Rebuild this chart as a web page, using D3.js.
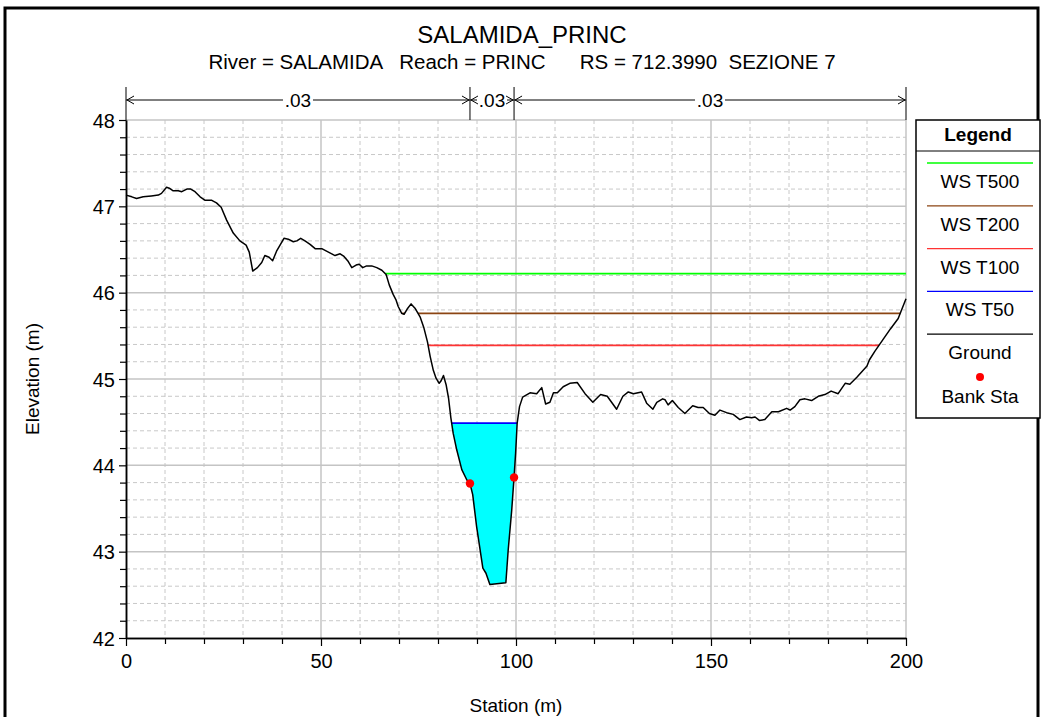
<!DOCTYPE html>
<html><head><meta charset="utf-8">
<script src="https://cdn.jsdelivr.net/npm/d3@7/dist/d3.min.js"></script>
<style>
html,body{margin:0;padding:0;background:#fff;}
svg{display:block;font-family:"Liberation Sans",Arial,sans-serif;}
</style></head>
<body>
<svg id="chart" width="1042" height="717"></svg>
<script>
// ---------- data ----------
const groundStation = [0,1.5,2.7,4.4,6.5,8.3,9.1,10.4,11.1,12.1,13.4,14.3,15.6,16.6,17.7,19.0,20.3,22.0,23.2,24.4,25.8,27.5,29.2,30.8,31.6,32.5,33.7,34.8,35.6,36.7,37.6,38.6,39.5,40.5,41.6,42.9,43.8,44.8,45.9,47.2,48.5,50.2,51.9,53.6,54.9,55.9,57.0,57.9,59.0,59.8,60.7,61.7,63.0,64.3,65.6,66.7,67.5,68.5,69.2,69.8,70.7,71.3,72.1,73.1,74.1,75.4,76.4,77.3,78.0,78.8,79.5,80.3,80.8,81.4,82.1,82.7,83.3,83.9,84.8,86.1,87.4,88.2,88.9,89.9,91.5,92.3,93.3,97.4,98.0,98.9,99.5,99.9,100.3,100.9,101.7,103.6,105.3,106.6,107.6,108.7,109.6,110.6,112.1,113.8,115.7,117.7,119.7,121.7,123.4,125.8,127.4,128.8,130.1,132.2,133.5,135.1,136.1,137.6,138.2,139.0,140.1,141.6,143.3,145.3,146.7,148.0,149.6,151.0,152.3,154.0,155.7,157.4,159.1,160.4,161.3,162.4,163.8,165.6,167.3,169.4,170.3,171.5,172.8,174.1,175.8,177.5,179.2,180.8,182.6,184.4,185.6,187.4,190.0,190.6,192.0,194.0,196.0,198.0,200.0];
const groundElev = [47.13,47.11,47.09,47.11,47.12,47.13,47.15,47.22,47.21,47.18,47.18,47.17,47.20,47.20,47.17,47.11,47.07,47.07,47.04,46.99,46.84,46.69,46.60,46.55,46.47,46.25,46.29,46.35,46.43,46.41,46.37,46.48,46.55,46.63,46.62,46.59,46.60,46.63,46.60,46.56,46.51,46.51,46.47,46.43,46.45,46.42,46.36,46.29,46.32,46.33,46.29,46.31,46.31,46.29,46.26,46.21,46.09,45.98,45.92,45.84,45.76,45.75,45.81,45.87,45.82,45.72,45.59,45.43,45.26,45.10,45.01,44.95,44.98,45.04,44.93,44.78,44.55,44.37,44.18,43.95,43.83,43.79,43.66,43.29,42.81,42.75,42.62,42.64,43.02,43.48,43.86,44.14,44.49,44.68,44.79,44.84,44.83,44.90,44.71,44.73,44.84,44.84,44.91,44.95,44.96,44.83,44.73,44.82,44.80,44.65,44.80,44.85,44.83,44.85,44.72,44.65,44.73,44.77,44.76,44.70,44.75,44.67,44.60,44.69,44.67,44.67,44.60,44.58,44.64,44.61,44.59,44.53,44.56,44.55,44.56,44.52,44.53,44.62,44.62,44.66,44.64,44.68,44.76,44.77,44.75,44.80,44.82,44.86,44.83,44.95,44.94,45.02,45.15,45.22,45.32,45.45,45.58,45.70,45.93];

const profileNames = ["WS T500","WS T200","WS T100","WS T50"];
const profileElev  = [46.22, 45.76, 45.39, 44.49];
const profileColors = ["#00ff00","#8b4513","#ff3333","#0000ff"];

const bankStation = [88.2, 99.5];
const bankElev = [43.79, 43.86];

const nBreaks = [0, 88.2, 99.5, 200];
const nValues = [".03", ".03", ".03"];

const xMajorTicks = [0,50,100,150,200];
const yMajorTicks = [42,43,44,45,46,47,48];

const titleText = "SALAMIDA_PRINC";
const subtitleText = "River = SALAMIDA   Reach = PRINC      RS = 712.3990  SEZIONE 7";

// ---------- layout ----------
const svg = d3.select("#chart");
const L = 126, R = 906, T = 120, B = 638;
const x = d3.scaleLinear().domain([0,200]).range([L,R]);
const y = d3.scaleLinear().domain([42,48]).range([B,T]);
const FONT = "Liberation Sans, Arial, sans-serif";

// outer frame
svg.append("rect").attr("x",5).attr("y",8).attr("width",1033).attr("height",740)
  .attr("fill","none").attr("stroke","#000").attr("stroke-width",3);

// grid
const xMinor = d3.range(0,201,10).filter(v=>v%50!==0);
const yMinor = d3.range(42,48.001,0.2).map(v=>+v.toFixed(1)).filter(v=>Math.abs(v-Math.round(v))>1e-6);
const g = svg.append("g");
g.selectAll(".vx").data(xMinor).enter().append("line")
  .attr("x1",d=>x(d)).attr("x2",d=>x(d)).attr("y1",T).attr("y2",B)
  .attr("stroke","#c8c8c8").attr("stroke-dasharray","4,3").attr("stroke-width",1);
g.selectAll(".hy").data(yMinor).enter().append("line")
  .attr("y1",d=>y(d)).attr("y2",d=>y(d)).attr("x1",L).attr("x2",R)
  .attr("stroke","#c8c8c8").attr("stroke-dasharray","4,3").attr("stroke-width",1);
g.selectAll(".vX").data(xMajorTicks.slice(1)).enter().append("line")
  .attr("x1",d=>x(d)).attr("x2",d=>x(d)).attr("y1",T).attr("y2",B)
  .attr("stroke","#c4c4c4").attr("stroke-width",1.5);
g.selectAll(".hY").data(yMajorTicks.slice(1)).enter().append("line")
  .attr("y1",d=>y(d)).attr("y2",d=>y(d)).attr("x1",L).attr("x2",R)
  .attr("stroke","#c4c4c4").attr("stroke-width",1.5);

// ground points
const pts = groundStation.map((s,i)=>[s,groundElev[i]]);

// wet intervals for a given WS
function wetSegments(ws){
  const segs=[]; let cur=null;
  for(let i=0;i<pts.length;i++){
    const [s,e]=pts[i];
    if(e<ws){
      if(!cur){
        let sx=s;
        if(i>0){const [s0,e0]=pts[i-1]; sx=s0+(ws-e0)*(s-s0)/(e-e0);}
        cur={start:sx, pts:[[sx,ws]]};
      }
      cur.pts.push([s,e]);
    } else if(cur){
      const [s0,e0]=pts[i-1]; const ex=s0+(ws-e0)*(s-s0)/(e-e0);
      cur.end=ex; cur.pts.push([ex,ws]); segs.push(cur); cur=null;
    }
  }
  if(cur){cur.end=pts[pts.length-1][0]; cur.pts.push([cur.end,ws]); segs.push(cur);}
  return segs;
}

// water fill for lowest profile
const lowest = profileElev.length-1;
wetSegments(profileElev[lowest]).forEach(sg=>{
  svg.append("path").attr("d",d3.line().x(d=>x(d[0])).y(d=>y(d[1]))(sg.pts)+"Z")
    .attr("fill","#00ffff").attr("stroke","none");
});

// WS lines
profileElev.forEach((ws,k)=>{
  wetSegments(ws).forEach(sg=>{
    svg.append("line").attr("x1",x(sg.start)).attr("x2",x(sg.end))
      .attr("y1",y(ws)).attr("y2",y(ws))
      .attr("stroke",profileColors[k]).attr("stroke-width",1.7);
  });
});

// ground
svg.append("path").datum(pts)
  .attr("d",d3.line().x(d=>x(d[0])).y(d=>y(d[1])))
  .attr("fill","none").attr("stroke","#000").attr("stroke-width",1.5).attr("stroke-linejoin","round");

// bank stations
svg.selectAll(".bank").data(bankStation).enter().append("circle")
  .attr("cx",d=>x(d)).attr("cy",(d,i)=>y(bankElev[i])).attr("r",4.2).attr("fill","#ff0000");

// axes
const ax = svg.append("g").attr("transform",`translate(0,${B})`)
  .call(d3.axisBottom(x).tickValues(xMajorTicks).tickSize(8).tickSizeOuter(0).tickPadding(8).tickFormat(d3.format("d")));
const axm = svg.append("g").attr("transform",`translate(0,${B})`)
  .call(d3.axisBottom(x).tickValues(xMinor).tickSize(6).tickSizeOuter(0).tickFormat(""));
const ay = svg.append("g").attr("transform",`translate(${L},0)`)
  .call(d3.axisLeft(y).tickValues(yMajorTicks).tickSize(7).tickSizeOuter(0).tickPadding(4).tickFormat(d3.format("d")));
const aym = svg.append("g").attr("transform",`translate(${L},0)`)
  .call(d3.axisLeft(y).tickValues(yMinor).tickSize(6).tickSizeOuter(0).tickFormat(""));
[ax,axm,ay,aym].forEach(a=>{
  a.select(".domain").attr("stroke","#000").attr("stroke-width",1.5);
  a.selectAll(".tick line").attr("stroke","#000").attr("stroke-width",1.2);
  a.selectAll("text").attr("font-size",20).attr("font-family",FONT).attr("fill","#000");
});
ay.selectAll("text").attr("dy","0.36em");

// axis titles
svg.append("text").attr("x",(L+R)/2).attr("y",712).attr("text-anchor","middle")
  .attr("font-size",19).attr("font-family",FONT).text("Station (m)");
svg.append("text").attr("transform",`translate(39,${(T+B)/2}) rotate(-90)`).attr("text-anchor","middle")
  .attr("font-size",19).attr("font-family",FONT).text("Elevation (m)");

// title
svg.append("text").attr("x",522).attr("y",43).attr("text-anchor","middle")
  .attr("font-size",24).attr("font-family",FONT).text(titleText);
svg.append("text").attr("x",522).attr("y",69).attr("text-anchor","middle")
  .attr("xml:space","preserve").style("white-space","pre")
  .attr("font-size",20.5).attr("font-family",FONT).text(subtitleText);

// Manning's n annotation
const na = svg.append("g");
na.selectAll(".nv").data(nBreaks).enter().append("line")
  .attr("x1",d=>x(d)).attr("x2",d=>x(d)).attr("y1",87).attr("y2",T)
  .attr("stroke","#000").attr("stroke-width",1);
const ay0 = 100;
nValues.forEach((v,i)=>{
  const x0=x(nBreaks[i]), x1=x(nBreaks[i+1]), xm=(x0+x1)/2;
  const tw = 30;
  const gapL = Math.max(xm-tw/2, x0+2), gapR = Math.min(xm+tw/2, x1-2);
  if(gapL>x0+1) na.append("line").attr("x1",x0).attr("x2",gapL).attr("y1",ay0).attr("y2",ay0).attr("stroke","#000");
  if(gapR<x1-1) na.append("line").attr("x1",gapR).attr("x2",x1).attr("y1",ay0).attr("y2",ay0).attr("stroke","#000");
  na.append("path").attr("d",`M${x0+8},${ay0-4}L${x0+1},${ay0}L${x0+8},${ay0+4}`).attr("fill","none").attr("stroke","#000");
  na.append("path").attr("d",`M${x1-8},${ay0-4}L${x1-1},${ay0}L${x1-8},${ay0+4}`).attr("fill","none").attr("stroke","#000");
  na.append("text").attr("x",xm).attr("y",ay0+7).attr("text-anchor","middle")
    .attr("font-size",19).attr("font-family",FONT).text(v);
});

// legend
const lg = svg.append("g");
lg.append("rect").attr("x",916).attr("y",120).attr("width",124).attr("height",298)
  .attr("fill","#fff").attr("stroke","#000").attr("stroke-width",1.5);
lg.append("line").attr("x1",916).attr("x2",1040).attr("y1",151).attr("y2",151).attr("stroke","#000");
lg.append("text").attr("x",978).attr("y",141).attr("text-anchor","middle").attr("font-weight","bold")
  .attr("font-size",19).attr("font-family",FONT).text("Legend");
const legNames = profileNames.concat(["Ground"]);
const legColors = profileColors.concat(["#000"]);
legNames.forEach((n,i)=>{
  const ly = 163 + i*42.8;
  lg.append("line").attr("x1",927).attr("x2",1033).attr("y1",ly).attr("y2",ly)
    .attr("stroke",legColors[i]).attr("stroke-width",1.3);
  lg.append("text").attr("x",980).attr("y",ly+25).attr("text-anchor","middle")
    .attr("font-size",19).attr("font-family",FONT).text(n);
});
lg.append("circle").attr("cx",980).attr("cy",377).attr("r",4).attr("fill","#ff0000");
lg.append("text").attr("x",980).attr("y",403).attr("text-anchor","middle")
  .attr("font-size",19).attr("font-family",FONT).text("Bank Sta");
</script>
</body></html>
